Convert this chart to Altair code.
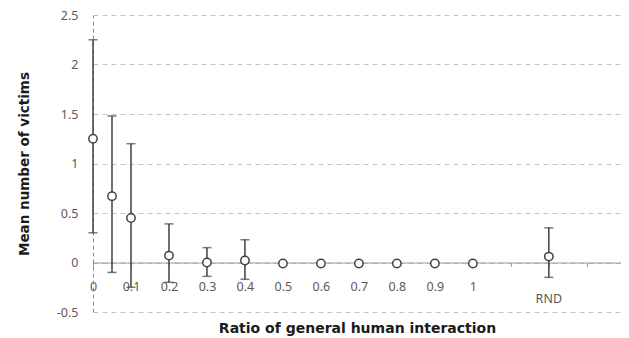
import altair as alt
import pandas as pd

# ---- data ----
labels = ["0", "0.05", "0.1", "0.2", "0.3", "0.4", "0.5", "0.6", "0.7", "0.8", "0.9", "1", "RND"]
x_pos = [0, 0.05, 0.1, 0.2, 0.3, 0.4, 0.5, 0.6, 0.7, 0.8, 0.9, 1.0, 1.2]
means = [1.25, 0.67, 0.45, 0.07, 0.0, 0.02, -0.01, -0.01, -0.01, -0.01, -0.01, -0.01, 0.06]
upper = [2.25, 1.48, 1.20, 0.39, 0.15, 0.23, None, None, None, None, None, None, 0.35]
lower = [0.30, -0.10, -0.25, -0.20, -0.14, -0.17, None, None, None, None, None, None, -0.15]

x_ticks = [0, 0.1, 0.2, 0.3, 0.4, 0.5, 0.6, 0.7, 0.8, 0.9, 1, 1.1, 1.2, 1.3]
y_ticks = [-0.5, 0, 0.5, 1, 1.5, 2, 2.5]

df = pd.DataFrame({"label": labels, "x": x_pos, "mean": means, "hi": upper, "lo": lower})
err = df.dropna()

FONT = "Noto Sans"
LABEL_COLOR = "#595959"

xscale = alt.Scale(domain=[0, 1.39], nice=False, zero=False)
yscale = alt.Scale(domain=[-0.5, 2.5], nice=False, zero=False)

xaxis = alt.Axis(
    values=x_ticks,
    labelExpr="datum.value <= 1.0001 ? '' + datum.value : ''",
    labelOverlap=False,
    labelFlush=False,
    offset=-49.5,
    grid=False,
    domainColor="#9a9a9a",
    tickColor="#9a9a9a",
    tickSize=4,
    labelPadding=14,
    labelFont=FONT,
    labelFontSize=12.5,
    labelColor=LABEL_COLOR,
    title="Ratio of general human interaction",
    titleFont="DejaVu Sans",
    titleFontSize=14,
    titleFontWeight="bold",
    titleColor="#1a1a1a",
    titleBaseline="middle",
    titleY=66,
)

yaxis = alt.Axis(
    values=y_ticks,
    labelExpr="'' + datum.value",
    labelOverlap=False,
    ticks=False,
    labelPadding=15,
    labelFont=FONT,
    labelFontSize=12.5,
    labelColor=LABEL_COLOR,
    domainColor="#8a8a8a",
    domainDash=[4, 3],
    grid=True,
    gridColor="#c4c4c4",
    gridDash=[5, 4],
    gridWidth=1,
    title="Mean number of victims",
    titleFont="DejaVu Sans",
    titleFontSize=13.5,
    titleFontWeight="bold",
    titleColor="#1a1a1a",
    titleBaseline="middle",
    titleX=-69,
    titleY=148.5,
)

base = alt.Chart(df)

axes_layer = base.mark_point(opacity=0).encode(
    x=alt.X("x:Q", scale=xscale, axis=xaxis),
    y=alt.Y("mean:Q", scale=yscale, axis=yaxis),
)

bars = alt.Chart(err).mark_rule(color="#404040", strokeWidth=1.5).encode(
    x="x:Q", y="lo:Q", y2="hi:Q"
)
cap_hi = alt.Chart(err).mark_tick(color="#404040", thickness=1.5, size=9, orient="horizontal").encode(
    x="x:Q", y="hi:Q"
)
cap_lo = alt.Chart(err).mark_tick(color="#404040", thickness=1.5, size=9, orient="horizontal").encode(
    x="x:Q", y="lo:Q"
)

points = base.mark_point(
    shape="circle", filled=True, fill="white", stroke="#404040", strokeWidth=1.5, size=70, opacity=1
).encode(x="x:Q", y="mean:Q")

rnd = alt.Chart(df[df["label"] == "RND"]).mark_text(
    font=FONT, fontSize=12.5, color=LABEL_COLOR, baseline="middle", dy=36
).encode(x="x:Q", y=alt.datum(0), text="label:N")

chart = alt.layer(axes_layer, bars, cap_hi, cap_lo, points, rnd).properties(
    width=528,
    height=297,
    autosize=alt.AutoSizeParams(type="none"),
    padding={"left": 85, "top": 7, "right": 0, "bottom": 26},
).configure_view(stroke=None)

chart.save("out.html", embed_options={"renderer": "svg", "actions": False})
